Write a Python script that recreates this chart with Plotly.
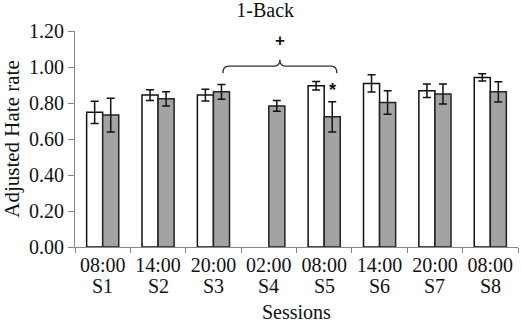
import plotly.graph_objects as go

sessions = ["S1", "S2", "S3", "S4", "S5", "S6", "S7", "S8"]
times = ["08:00", "14:00", "20:00", "02:00", "08:00", "14:00", "20:00", "08:00"]
white_vals = [0.748, 0.844, 0.844, None, 0.896, 0.909, 0.868, 0.942]
white_err = [0.062, 0.030, 0.033, None, 0.024, 0.048, 0.037, 0.020]
gray_vals = [0.733, 0.823, 0.862, 0.784, 0.723, 0.803, 0.850, 0.862]
gray_err = [0.094, 0.039, 0.041, 0.030, 0.084, 0.065, 0.055, 0.056]
y_ticks = [0.0, 0.2, 0.4, 0.6, 0.8, 1.0, 1.2]

FONT = "Liberation Serif"
FS = 20
xpos = list(range(len(sessions)))

fig = go.Figure()
fig.add_trace(go.Bar(
    x=xpos, y=white_vals,
    marker=dict(color="white", line=dict(color="#111111", width=1.5)),
    error_y=dict(type="data", array=white_err, color="#111111", thickness=1.5, width=4),
    name="A", showlegend=False,
))
fig.add_trace(go.Bar(
    x=xpos, y=gray_vals,
    marker=dict(color="#a3a3a3", line=dict(color="#222222", width=1.5)),
    error_y=dict(type="data", array=gray_err, color="#111111", thickness=1.5, width=4),
    name="B", showlegend=False,
))

# curly brace spanning S3..S5
x0, x1, xm = 2.17, 4.23, 3.2
ym, ye, yt = 1.005, 0.965, 1.04
d = 0.1
path = (f"M {x0},{ye} Q {x0},{ym} {x0+d},{ym} L {xm-d},{ym} Q {xm},{ym} {xm},{yt} "
        f"Q {xm},{ym} {xm+d},{ym} L {x1-d},{ym} Q {x1},{ym} {x1},{ye}")
fig.add_shape(type="path", path=path, xref="x", yref="y",
              line=dict(color="#333333", width=1.3))

fig.add_annotation(x=3.2, y=1.15, xref="x", yref="y", text="<b>+</b>", showarrow=False,
                   font=dict(family="Liberation Sans", size=17, color="#111111"))
fig.add_annotation(x=4.15, y=0.875, xref="x", yref="y", text="<b>*</b>", showarrow=False,
                   font=dict(family="Liberation Sans", size=18, color="#111111"))

# session labels under the time labels
for i, s in enumerate(sessions):
    fig.add_annotation(x=i, y=-0.18, xref="x", yref="paper", text=s, showarrow=False,
                       yanchor="middle", font=dict(family=FONT, size=FS, color="#111111"))
fig.add_annotation(x=0.5, y=-0.30, xref="paper", yref="paper", text="Sessions",
                   showarrow=False, yanchor="middle",
                   font=dict(family=FONT, size=FS, color="#111111"))

fig.update_layout(
    width=521, height=323,
    margin=dict(l=75, r=3, t=31, b=76, autoexpand=False),
    paper_bgcolor="white", plot_bgcolor="white",
    barmode="group", bargap=0.42, bargroupgap=0,
    font=dict(family=FONT, size=FS, color="#111111"),
    title=dict(text="1-Back", x=0.509, xanchor="center", y=0.97, yanchor="middle",
               font=dict(family=FONT, size=FS, color="#111111")),
)
fig.update_xaxes(
    type="category", range=[-0.5, 7.5], tickson="boundaries",
    tickmode="array", tickvals=xpos, ticktext=times,
    showline=True, linecolor="#888888", linewidth=1.2,
    ticks="outside", ticklen=5, tickcolor="#888888", tickwidth=1.2,
    showgrid=False, zeroline=False, automargin=False,
    tickfont=dict(family=FONT, size=FS),
)
fig.update_yaxes(
    range=[0, 1.2], tickvals=y_ticks, tickformat=".2f",
    showline=True, linecolor="#888888", linewidth=1.2,
    ticks="outside", ticklen=6, tickcolor="#888888", tickwidth=1.2,
    showgrid=False, zeroline=False, automargin=False,
    tickfont=dict(family=FONT, size=FS),
    title=dict(text="Adjusted Hate rate", standoff=5, font=dict(family=FONT, size=21)),
)

fig.write_html("out.html", config={"displayModeBar": False},
               post_script="document.body.style.margin='0px';")
